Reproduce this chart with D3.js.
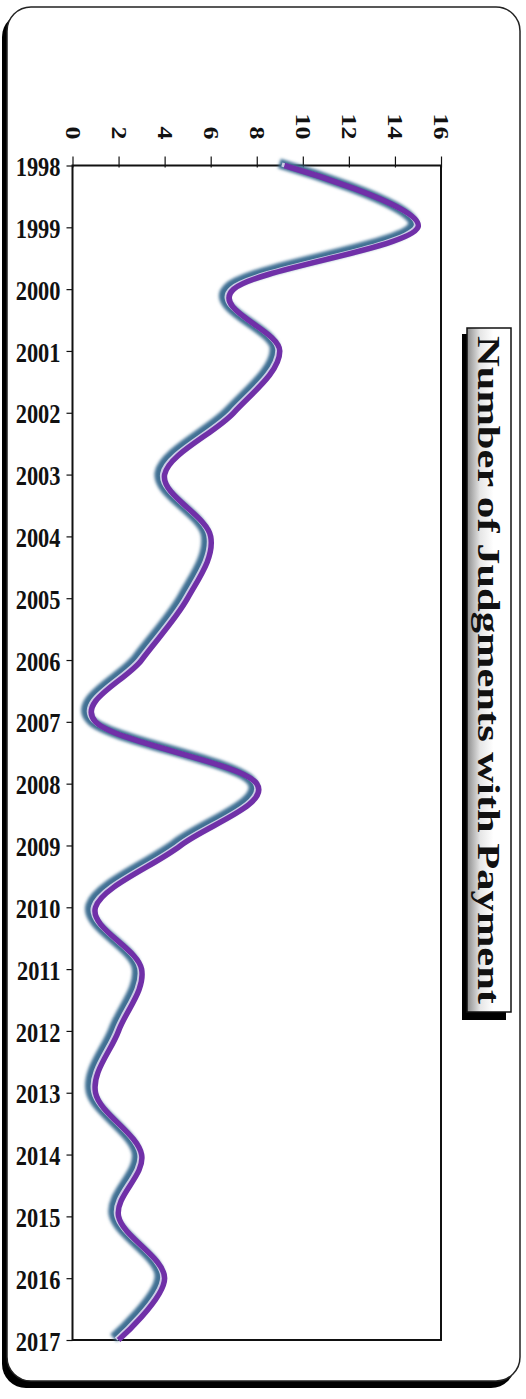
<!DOCTYPE html>
<html>
<head>
<meta charset="utf-8">
<script src="https://cdn.jsdelivr.net/npm/d3@7"></script>
<style>
  html, body { margin: 0; padding: 0; background: #ffffff; }
  svg { display: block; }
</style>
</head>
<body>
<div id="chart"></div>
<script>
// Yearly counts of judgments with payment
const years = [1998, 1999, 2000, 2001, 2002, 2003, 2004, 2005, 2006, 2007,
               2008, 2009, 2010, 2011, 2012, 2013, 2014, 2015, 2016, 2017];
const judgments = [9.2, 15, 7, 9, 7, 4, 6, 5, 3, 1,
                   8, 4.7, 1, 3, 2, 1, 3, 2, 4, 2];
const valueTicks = [0, 2, 4, 6, 8, 10, 12, 14, 16];
const titleText = "Number of Judgments with Payment";

const W = 526, H = 1399;
const plot = { left: 72.5, right: 441, top: 165.5, bottom: 1340 };
const serif = "'Liberation Serif', 'Times New Roman', serif";

const svg = d3.select("#chart").append("svg")
  .attr("width", W).attr("height", H);

const defs = svg.append("defs");
defs.append("filter").attr("id", "soft")
  .attr("x", "-10%").attr("y", "-10%").attr("width", "120%").attr("height", "120%")
  .append("feGaussianBlur").attr("stdDeviation", 1.8);

const grad = defs.append("linearGradient").attr("id", "titleFill")
  .attr("x1", "0%").attr("x2", "100%").attr("y1", "0%").attr("y2", "0%");
grad.append("stop").attr("offset", "0%").attr("stop-color", "#8c8c8c");
grad.append("stop").attr("offset", "30%").attr("stop-color", "#e6e6e6");
grad.append("stop").attr("offset", "60%").attr("stop-color", "#ffffff");
grad.append("stop").attr("offset", "100%").attr("stop-color", "#ffffff");

// Outer chart frame with a dark drop shadow
svg.append("rect")
  .attr("x", 2).attr("y", 13).attr("width", 513).attr("height", 1375)
  .attr("rx", 24).attr("fill", "#000");
svg.append("rect")
  .attr("x", 7).attr("y", 7).attr("width", 513).attr("height", 1374)
  .attr("rx", 24).attr("fill", "#fff").attr("stroke", "#222").attr("stroke-width", 1.5);

// Scales: values run across, years run down
const x = d3.scaleLinear().domain([0, 16]).range([plot.left, plot.right]);
const y = d3.scaleLinear().domain([years[0], years[years.length - 1]])
  .range([plot.top, plot.bottom]);

// Value axis along the top, labels turned a quarter clockwise
const xAxis = svg.append("g")
  .attr("transform", `translate(0,${plot.top})`)
  .call(d3.axisTop(x).tickValues(valueTicks).tickSize(8).tickSizeOuter(0).tickFormat(d3.format("d")));
xAxis.select(".domain").remove();
xAxis.selectAll(".tick line").attr("stroke", "#111").attr("stroke-width", 1.2).attr("y2", -9).attr("y1", 2);
xAxis.selectAll(".tick text")
  .attr("x", 0).attr("y", 0).attr("dy", "0.35em")
  .attr("text-anchor", "end")
  .attr("transform", "translate(0,-26) scale(0.8,1) rotate(90)")
  .attr("font-family", serif).attr("font-weight", "bold").attr("font-size", 26)
  .attr("fill", "#111");

// Year axis on the left
const yAxis = svg.append("g")
  .attr("transform", `translate(${plot.left},0)`)
  .call(d3.axisLeft(y).tickValues(years).tickSize(6).tickSizeOuter(0).tickFormat(d3.format("d")));
yAxis.select(".domain").remove();
yAxis.selectAll(".tick line").attr("stroke", "#111").attr("stroke-width", 1.2);
yAxis.selectAll(".tick text")
  .attr("x", 0).attr("dy", "0.36em")
  .attr("text-anchor", "end")
  .attr("transform", "translate(-12,0) scale(0.8,1)")
  .attr("font-family", serif).attr("font-weight", "bold").attr("font-size", 28)
  .attr("fill", "#111");

// Plot area border
svg.append("rect")
  .attr("x", plot.left).attr("y", plot.top)
  .attr("width", plot.right - plot.left).attr("height", plot.bottom - plot.top)
  .attr("fill", "none").attr("stroke", "#111").attr("stroke-width", 2);

// Smoothed series line with a soft blue shadow
const series = years.map((yr, i) => ({ year: yr, value: judgments[i] }));
const line = d3.line()
  .x(d => x(d.value))
  .y(d => y(d.year))
  .curve(d3.curveCardinal.tension(0));

svg.append("path").datum(series)
  .attr("d", line)
  .attr("transform", "translate(-5,-2)")
  .attr("fill", "none").attr("stroke", "#3f7093").attr("stroke-width", 10)
  .attr("stroke-linejoin", "round").attr("filter", "url(#soft)");
svg.append("path").datum(series)
  .attr("d", line)
  .attr("transform", "translate(-2.5,-1)")
  .attr("fill", "none").attr("stroke", "#dcd6ee").attr("stroke-width", 4)
  .attr("stroke-linejoin", "round").attr("opacity", 0.9);
svg.append("path").datum(series)
  .attr("d", line)
  .attr("fill", "none").attr("stroke", "#7030a8").attr("stroke-width", 5.5)
  .attr("stroke-linejoin", "round");

// Title box, turned a quarter clockwise
svg.append("rect")
  .attr("x", 462).attr("y", 334).attr("width", 44).attr("height", 686)
  .attr("fill", "#000");
svg.append("rect")
  .attr("x", 467).attr("y", 328).attr("width", 44).attr("height", 684)
  .attr("fill", "url(#titleFill)").attr("stroke", "#111").attr("stroke-width", 1.5);
svg.append("text")
  .attr("transform", "translate(489,670) scale(0.8,1) rotate(90)")
  .attr("x", 0).attr("y", 0).attr("dy", "0.35em")
  .attr("text-anchor", "middle")
  .attr("textLength", 668).attr("lengthAdjust", "spacingAndGlyphs")
  .attr("font-family", serif).attr("font-weight", "bold").attr("font-size", 40)
  .attr("fill", "#111")
  .text(titleText);
</script>
</body>
</html>
